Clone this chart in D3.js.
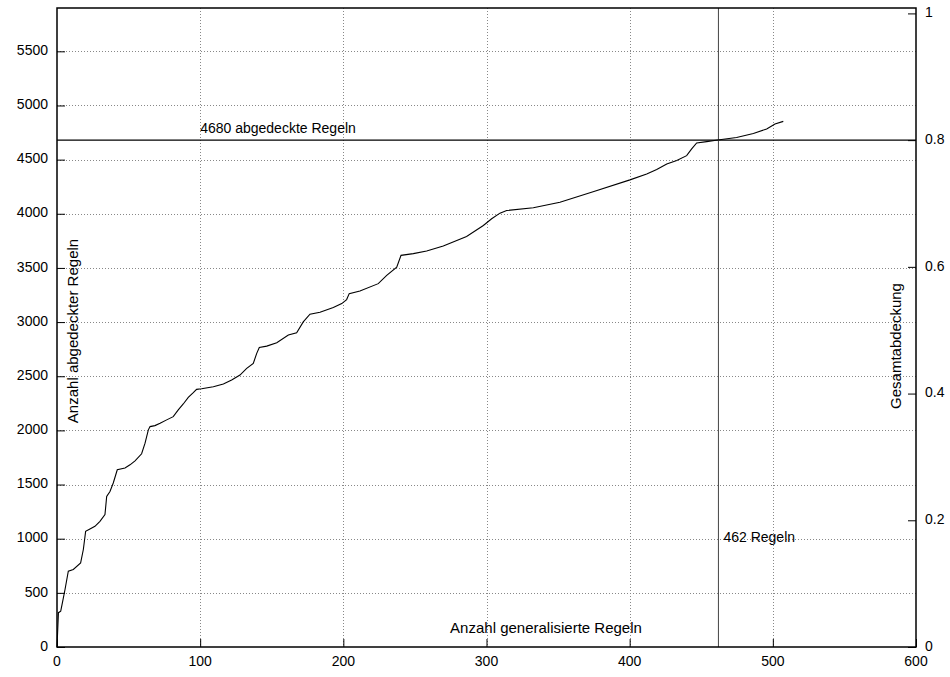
<!DOCTYPE html>
<html>
  <head>
    <meta charset="utf-8" />
    <style>
      body { margin: 0; background: #fff; }
      text { font-family: "Liberation Sans", Arial, sans-serif; font-size: 14px; fill: #000; }
      .title { font-size: 15px; }
    </style>
  </head>
  <body>
    <svg id="chart"></svg>

    <script src="https://d3js.org/d3.v7.min.js"></script>
    <script>
      // number of generalised rules (x) vs. covered rules (y)
      const generalizedRules = [
        0, 1, 2.6, 4, 5.6, 7.9, 11.4, 16.5, 18.4, 20, 23, 26.5, 30, 33.5, 34.7,
        37, 39.3, 42.1, 47.5, 51, 54.5, 59.1, 61.5, 63.8, 65, 68.4, 72, 76.6,
        81.2, 84.7, 88.2, 91.7, 95.2, 97.5, 101, 109.2, 116.2, 122, 127.8, 132.5,
        137.1, 139.5, 141.3, 146.5, 153.5, 161.6, 167.4, 172, 176.7, 183.7, 193,
        198.9, 202.3, 204.1, 211.6, 224.4, 230.3, 237.3, 240.3, 248.9, 258.2,
        269.8, 286.1, 297.8, 303.6, 309.4, 314.1, 332.7, 351.3, 375, 400.2,
        411.9, 418.9, 425.9, 432.9, 439.8, 443.3, 446.8, 453.8, 461.5, 474.7,
        486.4, 495.7, 501.5, 507.3,
      ];
      const coveredRules = [
        0, 317, 331, 424, 531, 700, 716, 777, 900, 1068, 1090, 1114, 1160, 1222,
        1390, 1436, 1514, 1636, 1652, 1682, 1719, 1784, 1882, 2005, 2035, 2044,
        2066, 2097, 2127, 2189, 2244, 2305, 2348, 2379, 2385, 2403, 2428, 2465,
        2511, 2573, 2619, 2711, 2766, 2778, 2809, 2880, 2901, 3002, 3073, 3091,
        3134, 3171, 3208, 3263, 3287, 3355, 3432, 3508, 3616, 3632, 3656, 3702,
        3791, 3892, 3954, 4006, 4030, 4055, 4107, 4205, 4313, 4368, 4408, 4460,
        4491, 4537, 4599, 4654, 4666, 4681, 4705, 4742, 4783, 4829, 4853,
      ];

      const xTicks = [0, 100, 200, 300, 400, 500, 600];
      const yTicks = [0, 500, 1000, 1500, 2000, 2500, 3000, 3500, 4000, 4500, 5000, 5500];
      const y2Ticks = [0, 0.2, 0.4, 0.6, 0.8, 1];

      const totalRules = 5850;
      const markedCovered = 4680;
      const markedRules = 462;

      const width = 950;
      const height = 677;
      const margin = { top: 8, right: 34, bottom: 30, left: 57 };

      const svg = d3.select("#chart").attr("width", width).attr("height", height);

      const x = d3.scaleLinear().domain([0, 600]).range([margin.left, width - margin.right]);
      const y = d3.scaleLinear().domain([0, 5900]).range([height - margin.bottom, margin.top]);
      const y2 = d3.scaleLinear().domain([0, 5900 / totalRules]).range(y.range());

      const x0 = x.range()[0], x1 = x.range()[1];
      const yb = y.range()[0], yt = y.range()[1];

      // dotted grid
      const grid = svg.append("g")
        .attr("stroke", "#888")
        .attr("stroke-dasharray", "1,2")
        .attr("stroke-width", 1);
      grid.selectAll(".gy")
        .data(yTicks.filter((d) => d > 0))
        .join("line")
        .attr("x1", x0).attr("x2", x1)
        .attr("y1", (d) => Math.round(y(d)) + 0.5)
        .attr("y2", (d) => Math.round(y(d)) + 0.5);
      grid.selectAll(".gx")
        .data(xTicks.filter((d) => d > 0 && d < 600))
        .join("line")
        .attr("y1", yt).attr("y2", yb)
        .attr("x1", (d) => Math.round(x(d)) + 0.5)
        .attr("x2", (d) => Math.round(x(d)) + 0.5);

      // axes with inward ticks
      const tickLen = 8;
      svg.append("g")
        .attr("transform", `translate(0,${yb})`)
        .call(d3.axisTop(x).tickValues(xTicks).tickSize(tickLen).tickFormat(""))
        .call((g) => g.select(".domain").remove());
      svg.append("g")
        .attr("transform", `translate(${x0},0)`)
        .call(d3.axisRight(y).tickValues(yTicks).tickSize(tickLen).tickFormat(""))
        .call((g) => g.select(".domain").remove());
      svg.append("g")
        .attr("transform", `translate(${x1},0)`)
        .call(d3.axisLeft(y2).tickValues(y2Ticks).tickSize(tickLen).tickFormat(""))
        .call((g) => g.select(".domain").remove());

      // tick labels
      svg.append("g")
        .selectAll("text")
        .data(xTicks)
        .join("text")
        .attr("x", (d) => x(d))
        .attr("y", yb + 15)
        .attr("text-anchor", "middle")
        .attr("dominant-baseline", "middle")
        .text((d) => d);
      svg.append("g")
        .selectAll("text")
        .data(yTicks)
        .join("text")
        .attr("x", x0 - 9)
        .attr("y", (d) => y(d))
        .attr("text-anchor", "end")
        .attr("dominant-baseline", "middle")
        .text((d) => d);
      svg.append("g")
        .selectAll("text")
        .data(y2Ticks)
        .join("text")
        .attr("x", x1 + 9)
        .attr("y", (d) => y2(d))
        .attr("dominant-baseline", "middle")
        .text((d) => d);

      // marker lines
      svg.append("line")
        .attr("x1", x0).attr("x2", x1)
        .attr("y1", y(markedCovered)).attr("y2", y(markedCovered))
        .attr("stroke", "#000").attr("stroke-width", 1.2);
      svg.append("line")
        .attr("x1", x(markedRules)).attr("x2", x(markedRules))
        .attr("y1", yt).attr("y2", yb)
        .attr("stroke", "#444").attr("stroke-width", 1);

      // coverage curve
      const line = d3.line()
        .x((d) => x(d[0]))
        .y((d) => y(d[1]));
      svg.append("path")
        .datum(d3.zip(generalizedRules, coveredRules))
        .attr("fill", "none")
        .attr("stroke", "#000")
        .attr("stroke-width", 1.1)
        .attr("d", line);

      // frame
      svg.append("rect")
        .attr("x", x0).attr("y", yt)
        .attr("width", x1 - x0).attr("height", yb - yt)
        .attr("fill", "none")
        .attr("stroke", "#000")
        .attr("stroke-width", 1.5);

      // labels
      svg.append("text")
        .attr("x", x(100))
        .attr("y", y(markedCovered) - 7)
        .text(`${markedCovered} abgedeckte Regeln`);
      svg.append("text")
        .attr("x", x(markedRules) + 5)
        .attr("y", y(1000))
        .attr("dominant-baseline", "middle")
        .text(`${markedRules} Regeln`);
      svg.append("text")
        .attr("class", "title")
        .attr("x", 546)
        .attr("y", yb - 18)
        .attr("text-anchor", "middle")
        .attr("dominant-baseline", "middle")
        .text("Anzahl generalisierte Regeln");
      svg.append("text")
        .attr("class", "title")
        .attr("transform", `translate(${x0 + 17},331) rotate(-90)`)
        .attr("text-anchor", "middle")
        .attr("dominant-baseline", "middle")
        .text("Anzahl abgedeckter Regeln");
      svg.append("text")
        .attr("class", "title")
        .attr("transform", `translate(${x1 - 19},346) rotate(-90)`)
        .attr("text-anchor", "middle")
        .attr("dominant-baseline", "middle")
        .text("Gesamtabdeckung");
    </script>
  </body>
</html>
